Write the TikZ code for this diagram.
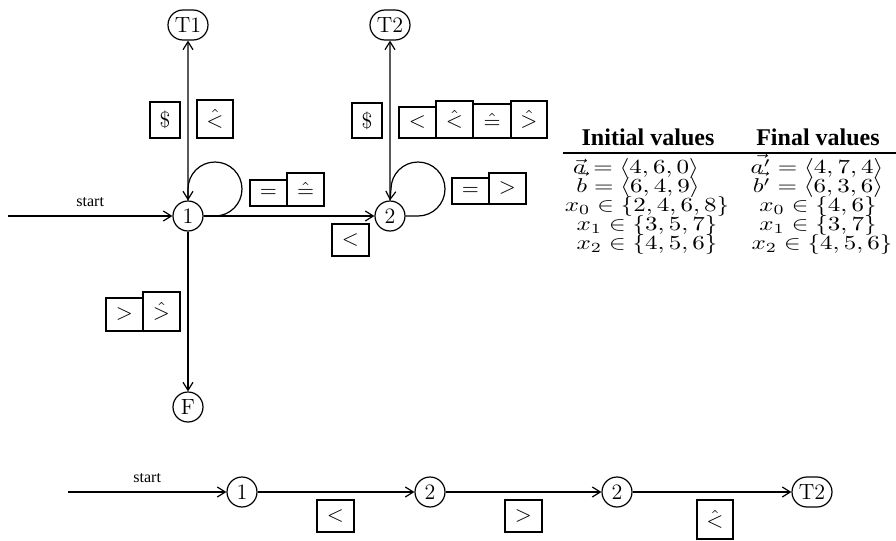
\documentclass[tikz,border=0pt]{standalone}
\usepackage{fontspec}
\newfontfamily\tnr{Liberation Serif}
\usetikzlibrary{arrows.meta,shapes.misc}
\begin{document}
\begin{tikzpicture}[x=0.5pt,y=-0.5pt,
  line width=0.6pt,
  >={Straight Barb[length=4pt,width=5pt]},
  st/.style={circle, draw, minimum size=15pt, inner sep=0pt, font=\fontsize{11}{13}\selectfont},
  term/.style={rounded rectangle, draw, minimum height=15pt, minimum width=22pt, inner sep=1pt, font=\fontsize{11}{13}\selectfont},
  bx/.style n args={2}{draw, inner sep=0pt, minimum width=#1*0.5pt, minimum height=#2*0.5pt, font=\fontsize{11}{13}\selectfont},
  startlbl/.style={font=\tnr\fontsize{8}{9}\selectfont, above=1pt},
  hdr/.style={font=\tnr\bfseries\fontsize{12}{14}\selectfont, anchor=base},
  cell/.style={font=\fontsize{10}{11}\selectfont, anchor=base, inner sep=0pt}
]
\useasboundingbox (0,0) rectangle (896,541);

% ---- top automaton ----
\node[term] (t1) at (188,25) {T1};
\node[term] (t2) at (390,25) {T2};
\node[st] (n1) at (188,216) {1};
\node[st] (n2) at (390,216) {2};
\node[st] (f) at (188,407) {F};
\coordinate (s1) at (8,216);
\coordinate (lp1) at (215,216);
\coordinate (lp2) at (418,216);

\draw[->] (s1) -- (n1) node[midway, startlbl] {start};
\draw[->] (n1) -- (t1);
\draw[->] (n1) -- (f);
\draw[->] (n1) -- (n2);
\draw[->] (n2) -- (t2);
\draw[->] (n1.east) -- (lp1) arc[start angle=90, end angle=-180, radius=27] -- (n1.north);
\draw[->] (n2.east) -- (lp2) arc[start angle=90, end angle=-180, radius=27] -- (n2.north);

% labels of top automaton
\node[bx={30}{36}] (d1) at (165,120) {\$};
\node[bx={36}{38}] (h1) at (215,119) {$\hat{<}$};
\node[bx={37}{26}] (e1) at (268.5,193) {$=$};
\node[bx={37}{33}] (e1h) at (305.5,189.5) {$\hat{=}$};
\node[bx={37}{32}] (l12) at (350.5,240) {$<$};
\node[bx={30}{35}] (d2) at (367,120.5) {\$};
\node[bx={37}{31}] (r1a) at (417.5,122.5) {$<$};
\node[bx={37}{37}] (r1b) at (454.5,119.5) {$\hat{<}$};
\node[bx={38}{34}] (r1c) at (492,121) {$\hat{=}$};
\node[bx={36}{37}] (r1d) at (529,119.5) {$\hat{>}$};
\node[bx={37}{26}] (e2) at (470.5,191) {$=$};
\node[bx={37}{31}] (e2b) at (507.5,188.5) {$>$};
\node[bx={37}{33}] (g1) at (124.5,314.5) {$>$};
\node[bx={37}{39}] (g1b) at (161.5,311.5) {$\hat{>}$};

% ---- table ----
\node[hdr] (h1t) at (648,145) {Initial values};
\node[hdr] (h2t) at (818,145) {Final values};
\coordinate (rl) at (563,153);
\coordinate (rr) at (896,153);
\draw (rl) -- (rr);
\node[cell] (c11) at (636,173) {\scalebox{1.25}[1]{$\vec{a} = \langle 4,6,0\rangle$}};
\node[cell] (c21) at (638,192) {\scalebox{1.25}[1]{$\vec{b} = \langle 6,4,9\rangle$}};
\node[cell] (c31) at (647,211) {\scalebox{1.25}[1]{$x_0 \in \{2,4,6,8\}$}};
\node[cell] (c41) at (647,230) {\scalebox{1.25}[1]{$x_1 \in \{3,5,7\}$}};
\node[cell] (c51) at (647,249) {\scalebox{1.25}[1]{$x_2 \in \{4,5,6\}$}};
\node[cell] (c12) at (817,173) {\scalebox{1.25}[1]{$\vec{a'} = \langle 4,7,4\rangle$}};
\node[cell] (c22) at (818,192) {\scalebox{1.25}[1]{$\vec{b'} = \langle 6,3,6\rangle$}};
\node[cell] (c32) at (818,211) {\scalebox{1.25}[1]{$x_0 \in \{4,6\}$}};
\node[cell] (c42) at (818,230) {\scalebox{1.25}[1]{$x_1 \in \{3,7\}$}};
\node[cell] (c52) at (822,249) {\scalebox{1.25}[1]{$x_2 \in \{4,5,6\}$}};

% ---- bottom run ----
\coordinate (s2) at (68,492);
\node[st] (b1) at (242,492) {1};
\node[st] (b2) at (430,492) {2};
\node[st] (b3) at (617,492) {2};
\node[term] (bt) at (812,492) {T2};
\draw[->] (s2) -- (b1) node[midway, startlbl] {start};
\draw[->] (b1) -- (b2);
\draw[->] (b2) -- (b3);
\draw[->] (b3) -- (bt);
\node[bx={37}{32}] (q1) at (335.5,516) {$<$};
\node[bx={37}{32}] (q2) at (523.5,516) {$>$};
\node[bx={36}{39}] (q3) at (715,519.5) {$\hat{<}$};
\end{tikzpicture}
\end{document}
